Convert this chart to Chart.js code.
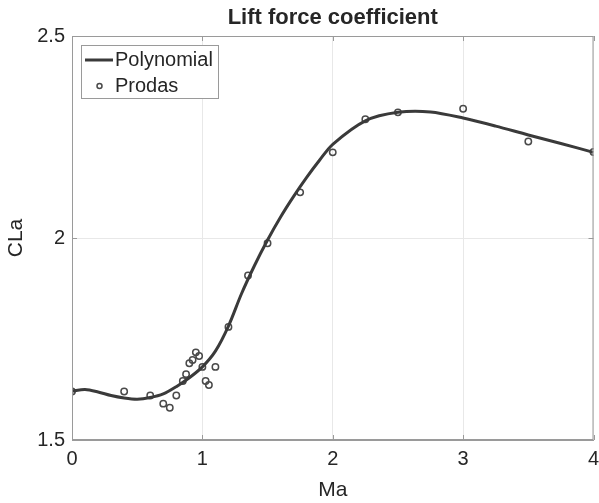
<!DOCTYPE html>
<html>
<head>
<meta charset="utf-8">
<script src="https://cdn.jsdelivr.net/npm/chart.js@4.4.0/dist/chart.umd.min.js"></script>
<style>
  body { margin: 0; background: #fff; }
  #wrap { width: 599px; height: 503px; position: relative; }
</style>
</head>
<body>
<div id="wrap"><canvas id="liftChart"></canvas></div>
<script>
// curve
const polyMa = [0, 0.1, 0.2, 0.3, 0.4, 0.5, 0.6, 0.7, 0.8, 0.9, 1.0, 1.1, 1.2, 1.3, 1.4, 1.5, 1.6, 1.7, 1.8, 1.9, 2.0, 2.25, 2.5, 2.75, 3.0, 3.25, 3.5, 3.75, 4.0];
const polyCLa = [1.621, 1.625, 1.619, 1.610, 1.604, 1.601, 1.605, 1.614, 1.632, 1.654, 1.681, 1.72, 1.782, 1.862, 1.932, 1.995, 2.052, 2.103, 2.15, 2.193, 2.232, 2.29, 2.311, 2.312, 2.297, 2.277, 2.255, 2.234, 2.212];

// Prodas points
const prodasMa = [0, 0.4, 0.6, 0.7, 0.75, 0.8, 0.85, 0.875, 0.9, 0.925, 0.95, 0.975, 1.0, 1.025, 1.05, 1.1, 1.2, 1.35, 1.5, 1.75, 2.0, 2.25, 2.5, 3.0, 3.5, 4.0];
const prodasCLa = [1.62, 1.62, 1.61, 1.59, 1.58, 1.61, 1.646, 1.663, 1.69, 1.698, 1.717, 1.708, 1.681, 1.646, 1.636, 1.681, 1.78, 1.907, 1.987, 2.113, 2.212, 2.294, 2.311, 2.32, 2.239, 2.213];

const xTicks = [0, 1, 2, 3, 4];
const yTicks = ['1.5', '2', '2.5'];

const chartTitle = 'Lift force coefficient';
const textColor = '#262626';
const boxColor = '#9a9a9a';

const toPoints = (xs, ys) => xs.map((x, i) => ({ x: x, y: ys[i] }));

// title, box with inward ticks and the legend, MATLAB style
const matlabDecor = {
  id: 'matlabDecor',
  afterDatasetsDraw(chart) {
    const ctx = chart.ctx;
    const a = chart.chartArea;
    const xs = chart.scales.x, ys = chart.scales.y;
    ctx.save();
    ctx.strokeStyle = boxColor;
    ctx.lineWidth = 1;
    ctx.strokeRect(a.left + 0.5, a.top + 0.5, a.right - a.left - 1, a.bottom - a.top - 1);
    ctx.beginPath();
    xTicks.forEach(v => {
      const px = Math.round(xs.getPixelForValue(v)) + 0.5;
      ctx.moveTo(px, a.bottom); ctx.lineTo(px, a.bottom - 5);
      ctx.moveTo(px, a.top); ctx.lineTo(px, a.top + 5);
    });
    yTicks.forEach(v => {
      const py = Math.round(ys.getPixelForValue(parseFloat(v))) + 0.5;
      ctx.moveTo(a.left, py); ctx.lineTo(a.left + 5, py);
      ctx.moveTo(a.right, py); ctx.lineTo(a.right - 5, py);
    });
    ctx.stroke();

    // title
    ctx.fillStyle = textColor;
    ctx.font = 'bold 22px "Liberation Sans", Arial, sans-serif';
    ctx.textAlign = 'center';
    ctx.textBaseline = 'middle';
    ctx.fillText(chartTitle, (a.left + a.right) / 2, 18);

    // legend
    const lx = a.left + 9, ly = a.top + 9, lw = 137, lh = 53;
    ctx.fillStyle = '#fff';
    ctx.fillRect(lx, ly, lw, lh);
    ctx.strokeStyle = boxColor;
    ctx.strokeRect(lx + 0.5, ly + 0.5, lw, lh);
    const ds = chart.data.datasets;
    ctx.strokeStyle = ds[0].borderColor;
    ctx.lineWidth = 3;
    ctx.beginPath();
    ctx.moveTo(lx + 4, ly + 15); ctx.lineTo(lx + 32, ly + 15);
    ctx.stroke();
    ctx.strokeStyle = ds[1].borderColor;
    ctx.lineWidth = 1.5;
    ctx.beginPath();
    ctx.arc(lx + 18.5, ly + 41, 2.5, 0, Math.PI * 2);
    ctx.stroke();
    ctx.fillStyle = textColor;
    ctx.font = '20px "Liberation Sans", Arial, sans-serif';
    ctx.textAlign = 'left';
    ctx.fillText(ds[0].label, lx + 34, ly + 15);
    ctx.fillText(ds[1].label, lx + 34, ly + 41);
    ctx.restore();
  }
};

const ctx = document.getElementById('liftChart').getContext('2d');
new Chart(ctx, {
  type: 'scatter',
  data: {
    datasets: [{
      label: 'Polynomial',
      data: toPoints(polyMa, polyCLa),
      showLine: true,
      borderColor: '#3a3a3a',
      borderWidth: 3,
      pointRadius: 0,
      tension: 0.3,
      fill: false
    }, {
      label: 'Prodas',
      data: toPoints(prodasMa, prodasCLa),
      showLine: false,
      borderColor: '#4a4a4a',
      backgroundColor: 'rgba(255,255,255,0)',
      pointRadius: 3.2,
      pointBorderWidth: 1.5
    }]
  },
  options: {
    responsive: true,
    maintainAspectRatio: false,
    animation: false,
    layout: { padding: { top: 36, right: 2, left: 0, bottom: 0 } },
    plugins: {
      legend: { display: false },
      title: { display: false },
      tooltip: { enabled: false }
    },
    scales: {
      x: {
        type: 'linear',
        min: 0,
        max: 4,
        afterBuildTicks: s => { s.ticks = xTicks.map(v => ({ value: v })); },
        afterFit: s => { s.height = 63; s.paddingLeft = 0; s.paddingRight = 0; },
        ticks: {
          color: textColor,
          padding: 7,
          font: { family: '"Liberation Sans", Arial, sans-serif', size: 20 },
          callback: v => String(v)
        },
        grid: { color: '#e8e8e8', drawTicks: false },
        border: { color: boxColor },
        title: {
          display: true,
          text: 'Ma',
          color: textColor,
          padding: { top: 0, bottom: 0 },
          font: { family: '"Liberation Sans", Arial, sans-serif', size: 21 }
        }
      },
      y: {
        type: 'linear',
        min: 1.5,
        max: 2.5,
        afterBuildTicks: s => { s.ticks = yTicks.map(v => ({ value: parseFloat(v) })); },
        afterFit: s => { s.width = 72; s.paddingTop = 0; s.paddingBottom = 0; },
        ticks: {
          color: textColor,
          padding: 7,
          font: { family: '"Liberation Sans", Arial, sans-serif', size: 20 },
          callback: (v, i) => yTicks[i]
        },
        grid: { color: '#e8e8e8', drawTicks: false },
        border: { color: boxColor },
        title: {
          display: true,
          text: 'CLa',
          color: textColor,
          padding: { top: 4, bottom: 0 },
          font: { family: '"Liberation Sans", Arial, sans-serif', size: 21 }
        }
      }
    }
  },
  plugins: [matlabDecor]
});
</script>
</body>
</html>
